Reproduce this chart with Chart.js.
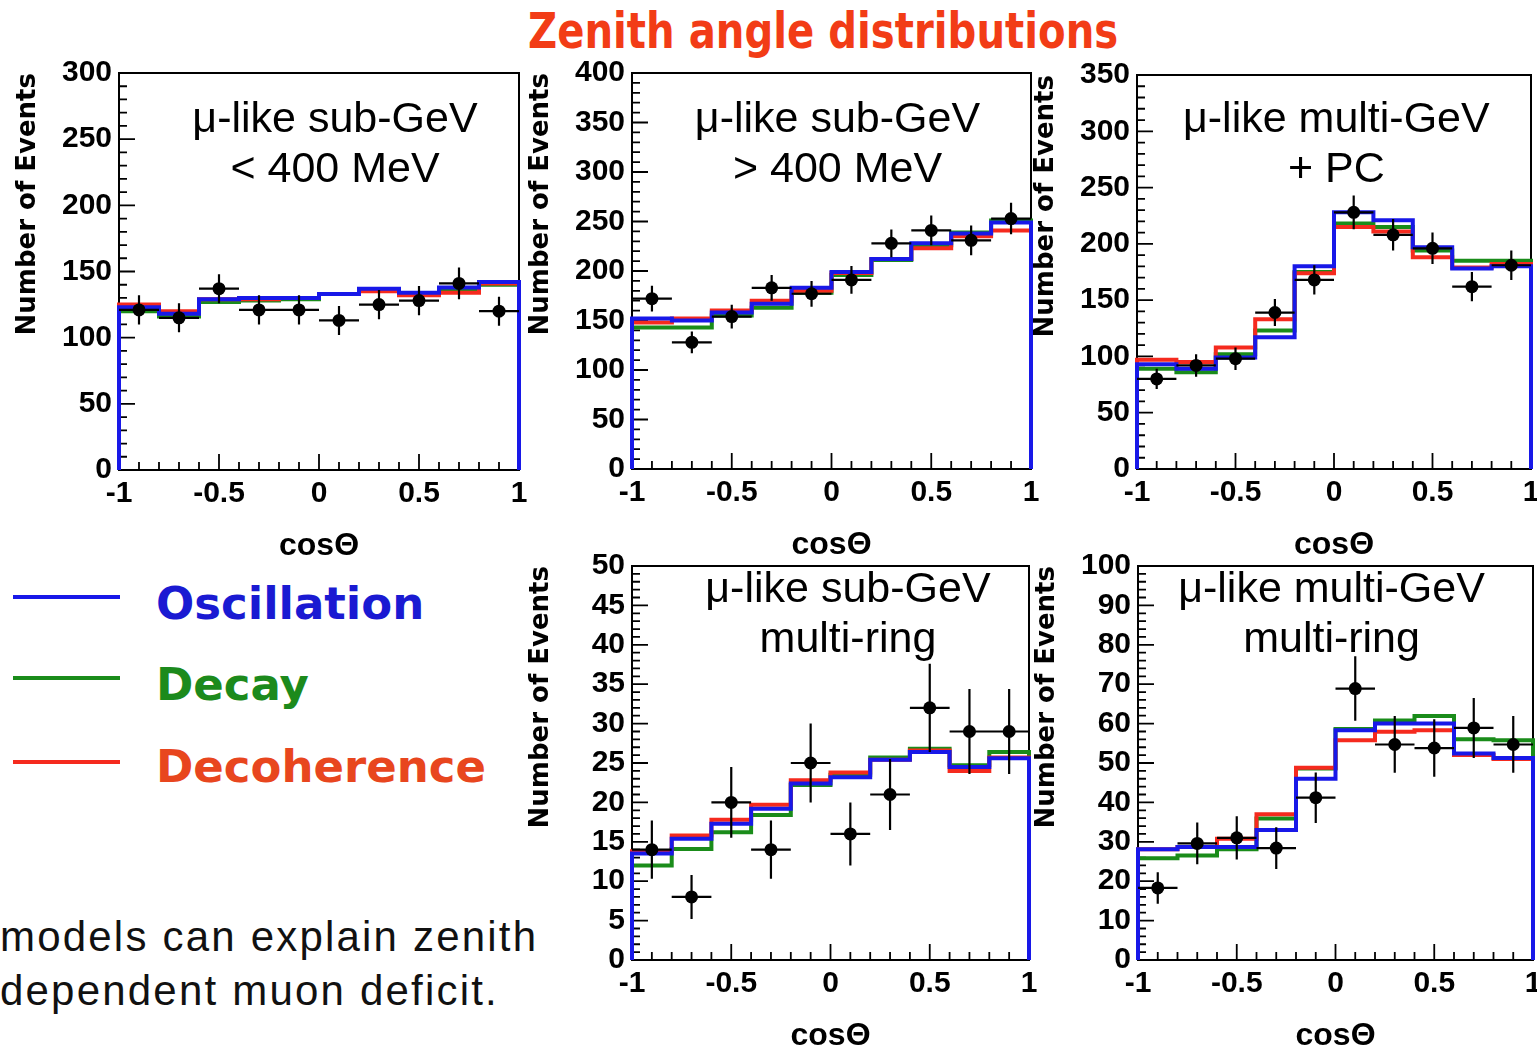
<!DOCTYPE html>
<html>
<head>
<meta charset="utf-8">
<title>Zenith angle distributions</title>
<script src="https://cdn.jsdelivr.net/npm/chart.js@4.4.1/dist/chart.umd.min.js"></script>
<style>
  html, body { margin: 0; padding: 0; background: #fff; overflow: hidden; }
  body { width: 1537px; height: 1045px; position: relative; }
  canvas { position: absolute; }
  #title {
    position: absolute; left: 528px; top: 7px; white-space: nowrap;
    font: bold 49px "DejaVu Sans", sans-serif; line-height: 49px;
    color: #f23c16; transform-origin: left top;
  }
  .key-line { position: absolute; left: 13px; width: 107px; height: 4px; }
  .key-text {
    position: absolute; left: 156px; white-space: nowrap;
    font: bold 45px "DejaVu Sans", sans-serif; line-height: 45px;
  }
  #note {
    position: absolute; left: 0; top: 910px; white-space: nowrap;
    font: 42px "Liberation Sans", Arial, sans-serif; line-height: 54px;
    letter-spacing: 2.2px; color: #111;
  }
</style>
</head>
<body>
<div id="title">Zenith angle distributions</div>
<div id="note">models can explain zenith<br>dependent muon deficit.</div>

<script>
// cos(zenith) binning shared by all panels
const binEdges = [-1, -0.8, -0.6, -0.4, -0.2, 0, 0.2, 0.4, 0.6, 0.8, 1];
const binCenters = [-0.9, -0.7, -0.5, -0.3, -0.1, 0.1, 0.3, 0.5, 0.7, 0.9];

const modelNames = ['Oscillation', 'Decay', 'Decoherence'];
const modelColors = ['#1818e8', '#1a8c1a', '#f52a1e'];
const keyTextColors = ['#1a1ad2', '#1c8a1c', '#e8461e'];

// mu-like sub-GeV < 400 MeV
const subLowData  = [121, 115, 137, 121, 121, 113, 125, 128, 141, 120];
const subLowErr   = [11, 11, 11, 11, 11, 11, 11, 11, 12, 11];
const subLowOsc   = [123, 118, 129, 130, 130, 133, 137, 134, 138, 142];
const subLowDecay = [120, 116, 127, 128, 129, 133, 136, 133, 136, 140];
const subLowDecoh = [125, 120, 129, 129, 130, 133, 135, 132, 134, 141];

// mu-like sub-GeV > 400 MeV
const subHighData  = [172, 128, 154, 183, 177, 191, 228, 241, 231, 253];
const subHighErr   = [13, 11, 12, 13, 13, 14, 14, 15, 15, 16];
const subHighOsc   = [152, 150, 158, 167, 183, 199, 212, 228, 238, 249];
const subHighDecay = [143, 143, 155, 163, 178, 196, 211, 226, 239, 251];
const subHighDecoh = [148, 152, 160, 170, 180, 198, 212, 223, 235, 241];

// mu-like multi-GeV + PC
const multiPcData  = [80, 92, 98, 139, 168, 228, 208, 196, 162, 181];
const multiPcErr   = [9, 10, 10, 12, 13, 15, 14, 14, 13, 13];
const multiPcOsc   = [93, 89, 99, 117, 180, 228, 221, 197, 178, 180];
const multiPcDecay = [89, 86, 102, 123, 175, 218, 215, 194, 185, 185];
const multiPcDecoh = [97, 95, 108, 133, 174, 215, 211, 188, 179, 182];

// mu-like sub-GeV multi-ring
const subRingData  = [14, 8, 20, 14, 25, 16, 21, 32, 29, 29];
const subRingErr   = [3.7, 2.8, 4.5, 3.7, 5, 4, 4.5, 5.6, 5.4, 5.4];
const subRingOsc   = [13.5, 15.4, 17.3, 19.2, 22.4, 23.2, 25.4, 26.4, 24.5, 25.6];
const subRingDecay = [12, 14.1, 16.2, 18.4, 22.2, 23.5, 25.7, 26.8, 24.7, 26.4];
const subRingDecoh = [13.8, 15.8, 17.8, 19.7, 22.8, 23.8, 25.4, 26.6, 24, 25.7];

// mu-like multi-GeV multi-ring
const multiRingData  = [18.3, 29.6, 31, 28.4, 41.2, 68.9, 54.7, 53.8, 58.9, 54.7];
const multiRingErr   = [4, 5.3, 5.5, 5.3, 6.4, 8.2, 7.2, 7.3, 7.6, 7.2];
const multiRingOsc   = [28.1, 28.7, 28.7, 33, 46, 58.3, 60, 60, 52.4, 51.3];
const multiRingDecay = [25.8, 26.5, 28.1, 35.9, 48.6, 58.6, 60.8, 61.9, 56, 55.8];
const multiRingDecoh = [28.1, 28.7, 30.8, 37, 48.8, 55.8, 57.9, 58.3, 52, 51];

const Y_AXIS_W = 106;
const X_AXIS_H = 95;
const PAD_T = 40;
const PAD_R = 22;

const panels = [
  { box: {l: 119, t: 73, r: 519, b: 470}, yMax: 300, yStep: 50, yMinor: 10,
    label: ['\u03bc-like sub-GeV', '< 400 MeV'], labelX: 0.54, labelY: [47, 97],
    data: subLowData, err: subLowErr, models: [subLowOsc, subLowDecay, subLowDecoh] },
  { box: {l: 632, t: 73, r: 1031, b: 469}, yMax: 400, yStep: 50, yMinor: 10,
    label: ['\u03bc-like sub-GeV', '> 400 MeV'], labelX: 0.515, labelY: [47, 97],
    data: subHighData, err: subHighErr, models: [subHighOsc, subHighDecay, subHighDecoh] },
  { box: {l: 1137, t: 75, r: 1531, b: 469}, yMax: 350, yStep: 50, yMinor: 10,
    label: ['\u03bc-like multi-GeV', '+ PC'], labelX: 0.506, labelY: [45, 95],
    data: multiPcData, err: multiPcErr, models: [multiPcOsc, multiPcDecay, multiPcDecoh] },
  { box: {l: 632, t: 566, r: 1029, b: 960}, yMax: 50, yStep: 5, yMinor: 1,
    label: ['\u03bc-like sub-GeV', 'multi-ring'], labelX: 0.544, labelY: [24, 74],
    data: subRingData, err: subRingErr, models: [subRingOsc, subRingDecay, subRingDecoh] },
  { box: {l: 1138, t: 566, r: 1533, b: 960}, yMax: 100, yStep: 10, yMinor: 2,
    label: ['\u03bc-like multi-GeV', 'multi-ring'], labelX: 0.49, labelY: [24, 74],
    data: multiRingData, err: multiRingErr, models: [multiRingOsc, multiRingDecay, multiRingDecoh] }
];

// histogram outline: up from zero at the first edge, across every bin, down at the last edge
function stepPoints(values) {
  const last = binEdges.length - 1;
  const pts = [{x: binEdges[0], y: 0}];
  values.forEach((v, i) => pts.push({x: binEdges[i], y: v}));
  pts.push({x: binEdges[last], y: values[values.length - 1]});
  pts.push({x: binEdges[last], y: 0});
  return pts;
}

function isMajor(v, step) {
  const q = v / step;
  return Math.abs(q - Math.round(q)) < 1e-6;
}

// frame with inward ticks, ROOT style, plus the panel caption
function framePlugin(p) {
  return {
    id: 'frame',
    beforeDatasetsDraw(chart) {
      const {ctx, chartArea: a, scales: {x, y}} = chart;
      ctx.save();
      ctx.strokeStyle = '#000';
      ctx.lineWidth = 2;
      ctx.strokeRect(a.left, a.top, a.right - a.left, a.bottom - a.top);
      ctx.lineWidth = 1.8;
      ctx.beginPath();
      const nx = Math.round((x.max - x.min) / 0.1);
      for (let i = 0; i <= nx; i++) {
        const v = x.min + i * 0.1;
        const px = x.getPixelForValue(v);
        const len = isMajor(v, 0.5) ? 16 : 8;
        ctx.moveTo(px, a.bottom);
        ctx.lineTo(px, a.bottom - len);
      }
      const ny = Math.round((y.max - y.min) / p.yMinor);
      for (let i = 0; i <= ny; i++) {
        const v = y.min + i * p.yMinor;
        const py = y.getPixelForValue(v);
        const len = isMajor(v, p.yStep) ? 16 : 8;
        ctx.moveTo(a.left, py);
        ctx.lineTo(a.left + len, py);
      }
      ctx.stroke();
      ctx.fillStyle = '#000';
      ctx.font = '43px "Liberation Sans", Arial, sans-serif';
      ctx.textAlign = 'center';
      ctx.textBaseline = 'middle';
      p.label.forEach((t, i) => {
        ctx.fillText(t, a.left + p.labelX * (a.right - a.left), a.top + p.labelY[i]);
      });
      ctx.restore();
    }
  };
}

// horizontal bar = bin width, vertical bar = statistical error
function errorBarPlugin(p) {
  return {
    id: 'errorBars',
    afterDatasetsDraw(chart) {
      const {ctx, scales: {x, y}} = chart;
      ctx.save();
      ctx.strokeStyle = '#000';
      ctx.lineWidth = 2.2;
      ctx.beginPath();
      p.data.forEach((v, i) => {
        const py = y.getPixelForValue(v);
        const px = x.getPixelForValue(binCenters[i]);
        ctx.moveTo(x.getPixelForValue(binEdges[i]), py);
        ctx.lineTo(x.getPixelForValue(binEdges[i + 1]), py);
        ctx.moveTo(px, y.getPixelForValue(v - p.err[i]));
        ctx.lineTo(px, y.getPixelForValue(v + p.err[i]));
      });
      ctx.stroke();
      ctx.restore();
    }
  };
}

const tickFont = {family: '"Liberation Sans", Arial, sans-serif', weight: 'bold', size: 30};

function makePanel(p) {
  const {l, t, r, b} = p.box;
  const canvas = document.createElement('canvas');
  canvas.width = Y_AXIS_W + (r - l) + PAD_R;
  canvas.height = PAD_T + (b - t) + X_AXIS_H;
  canvas.style.left = (l - Y_AXIS_W) + 'px';
  canvas.style.top = (t - PAD_T) + 'px';
  document.body.appendChild(canvas);

  // blue drawn last (on top), then red, then green underneath
  const drawOrder = [1, 3, 2];
  const histSets = p.models.map((vals, k) => ({
    label: modelNames[k],
    data: stepPoints(vals),
    stepped: 'before',
    borderColor: modelColors[k],
    borderWidth: 4,
    borderJoinStyle: 'miter',
    pointRadius: 0,
    fill: false,
    clip: 8,
    order: drawOrder[k]
  }));

  const points = {
    label: 'Data',
    data: binCenters.map((c, i) => ({x: c, y: p.data[i]})),
    showLine: false,
    pointRadius: 6.5,
    pointBorderWidth: 0,
    pointBackgroundColor: '#000',
    clip: 8,
    order: 0
  };

  new Chart(canvas, {
    type: 'line',
    data: {datasets: [points, ...histSets]},
    options: {
      responsive: false,
      animation: false,
      events: [],
      layout: {padding: {left: 0, top: PAD_T, right: PAD_R, bottom: 0}},
      plugins: {legend: {display: false}, tooltip: {enabled: false}},
      scales: {
        x: {
          type: 'linear', min: -1, max: 1,
          grid: {display: false, drawTicks: false},
          border: {display: false},
          ticks: {stepSize: 0.5, autoSkip: false, padding: 6, color: '#000', font: tickFont,
                  callback: v => String(v)},
          title: {display: true, text: 'cos\u0398', color: '#000', padding: {top: 0, bottom: 0},
                  font: {family: '"Liberation Sans", Arial, sans-serif', weight: 'bold', size: 32}},
          afterFit: s => { s.height = X_AXIS_H; }
        },
        y: {
          type: 'linear', min: 0, max: p.yMax,
          grid: {display: false, drawTicks: false},
          border: {display: false},
          ticks: {stepSize: p.yStep, autoSkip: false, padding: 7, color: '#000', font: tickFont,
                  callback: v => String(v)},
          title: {display: true, text: 'Number of Events', align: 'end', color: '#000',
                  padding: {top: 0, bottom: 0},
                  font: {family: '"DejaVu Sans", sans-serif', weight: 'bold', size: 26}},
          afterFit: s => { s.width = Y_AXIS_W; }
        }
      }
    },
    plugins: [framePlugin(p), errorBarPlugin(p)]
  });
}

panels.forEach(makePanel);

// model key on the left
const keyLineY = [595, 676, 760];
const keyTextY = [581, 662, 744];
modelNames.forEach((name, k) => {
  const line = document.createElement('div');
  line.className = 'key-line';
  line.style.top = keyLineY[k] + 'px';
  line.style.background = modelColors[k];
  document.body.appendChild(line);
  const txt = document.createElement('div');
  txt.className = 'key-text';
  txt.style.top = keyTextY[k] + 'px';
  txt.style.color = keyTextColors[k];
  txt.textContent = name;
  document.body.appendChild(txt);
});

// squeeze the heading to its slot width
const title = document.getElementById('title');
title.style.transform = 'scaleX(' + (590 / title.offsetWidth) + ')';
</script>
</body>
</html>
